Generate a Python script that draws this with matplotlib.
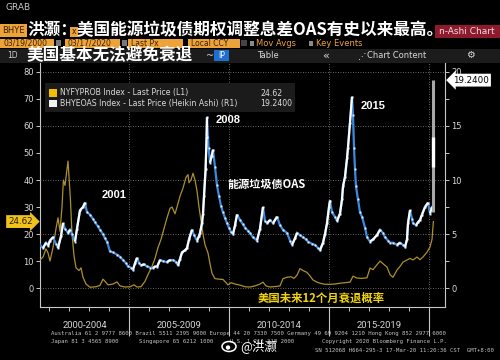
import numpy as np
import matplotlib
matplotlib.use("Agg")
import matplotlib.pyplot as plt
from matplotlib.patches import Rectangle, Ellipse, Circle
from matplotlib.collections import LineCollection

plt.rcParams['font.family'] = ['DejaVu Sans']
CJK = ['Noto Sans CJK SC', 'DejaVu Sans']

# ---------------- data ----------------
prob_dates = [2000.55, 2000.70, 2000.85, 2000.95, 2001.05, 2001.20, 2001.35, 2001.45, 2001.55, 2001.65,
              2001.72, 2001.80, 2001.95, 2002.07, 2002.15, 2002.25, 2002.35, 2002.50, 2002.60, 2002.70,
              2002.85, 2003.05, 2003.35, 2003.55, 2003.70, 2003.80, 2003.95, 2004.20, 2004.40, 2004.55,
              2004.80, 2005.05, 2005.25, 2005.40, 2005.60, 2005.80, 2005.95, 2006.15, 2006.30, 2006.45,
              2006.60, 2006.75, 2006.90, 2007.05, 2007.15, 2007.30, 2007.40, 2007.55, 2007.70, 2007.85,
              2007.95, 2008.00, 2008.10, 2008.20, 2008.30, 2008.40, 2008.50, 2008.60, 2008.70, 2008.80,
              2008.95, 2009.05, 2009.15, 2009.30, 2009.50, 2009.70, 2009.85, 2009.95, 2010.10, 2010.30,
              2010.55, 2010.80, 2011.05, 2011.30, 2011.55, 2011.70, 2011.85, 2012.05, 2012.35, 2012.55,
              2012.70, 2012.90, 2013.10, 2013.25, 2013.40, 2013.55, 2013.70, 2013.90, 2014.05, 2014.20,
              2014.40, 2014.55, 2014.80, 2015.05, 2015.30, 2015.55, 2015.80, 2016.05, 2016.20, 2016.40,
              2016.65, 2016.90, 2017.05, 2017.20, 2017.35, 2017.55, 2017.75, 2017.90, 2018.05, 2018.20,
              2018.40, 2018.55, 2018.70, 2018.90, 2019.05, 2019.20, 2019.40, 2019.55, 2019.70, 2019.90,
              2020.05, 2020.15, 2020.22]
prob_values = [10.4, 11.5, 14.5, 13.0, 10.0, 15.0, 22.0, 26.0, 21.0, 30.0,
               40.0, 38.0, 47.0, 33.0, 20.0, 12.0, 7.5, 6.5, 7.5, 4.0,
               1.5, 0.3, 0.5, 1.0, 3.3, 2.5, 1.2, 1.5, 2.3, 0.8,
               0.4, 0.5, 1.2, 0.4, 0.5, 2.5, 5.0, 8.0, 11.0, 15.0,
               18.0, 22.0, 26.0, 29.5, 30.0, 27.5, 30.0, 34.0, 37.0, 41.0,
               42.0, 39.0, 40.0, 42.5, 40.0, 36.0, 30.0, 25.0, 20.0, 16.0,
               13.0, 9.0, 5.5, 3.5, 3.3, 3.2, 2.0, 1.2, 2.0, 1.5,
               1.1, 0.5, 0.4, 0.8, 1.5, 2.2, 0.8, 0.4, 0.6, 0.8,
               3.5, 4.0, 4.2, 3.6, 4.8, 7.2, 6.5, 5.8, 4.5, 3.0,
               2.2, 1.8, 1.4, 1.4, 1.5, 1.8, 2.0, 2.2, 4.4, 3.7,
               3.6, 3.8, 7.4, 6.8, 8.2, 10.0, 8.7, 7.8, 5.0, 4.0,
               6.7, 8.0, 9.6, 10.4, 11.0, 10.4, 11.5, 10.5, 11.5, 13.3,
               15.2, 18.0, 24.62]

oas_dates = [2000.55, 2000.70, 2000.85, 2000.95, 2001.05, 2001.20, 2001.35, 2001.45, 2001.60, 2001.70,
             2001.80, 2001.95, 2002.05, 2002.15, 2002.30, 2002.40, 2002.55, 2002.70, 2002.80, 2002.90,
             2003.05, 2003.20, 2003.30, 2003.45, 2003.55, 2003.70, 2003.80, 2003.90, 2004.05, 2004.20,
             2004.40, 2004.55, 2004.70, 2004.85, 2004.95, 2005.10, 2005.20, 2005.30, 2005.40, 2005.50,
             2005.60, 2005.75, 2005.90, 2006.05, 2006.20, 2006.30, 2006.40, 2006.55, 2006.70, 2006.90,
             2007.05, 2007.20, 2007.35, 2007.45, 2007.55, 2007.65, 2007.80, 2007.90, 2008.00, 2008.15,
             2008.25, 2008.40, 2008.50, 2008.55, 2008.65, 2008.70, 2008.75, 2008.83, 2008.88, 2008.90,
             2008.98, 2009.05, 2009.13, 2009.20, 2009.30, 2009.40, 2009.50, 2009.60, 2009.70, 2009.80,
             2009.90, 2010.00, 2010.10, 2010.20, 2010.30, 2010.40, 2010.55, 2010.70, 2010.80, 2010.95,
             2011.05, 2011.20, 2011.40, 2011.55, 2011.70, 2011.80, 2011.90, 2012.05, 2012.20, 2012.40,
             2012.55, 2012.70, 2012.90, 2013.05, 2013.15, 2013.30, 2013.40, 2013.55, 2013.70, 2013.85,
             2013.95, 2014.15, 2014.30, 2014.45, 2014.55, 2014.70, 2014.80, 2014.90, 2015.00, 2015.05,
             2015.15, 2015.30, 2015.40, 2015.55, 2015.65, 2015.70, 2015.80, 2015.90, 2015.95, 2016.05,
             2016.15, 2016.20, 2016.25, 2016.30, 2016.35, 2016.45, 2016.55, 2016.65, 2016.80, 2016.90,
             2017.05, 2017.20, 2017.40, 2017.55, 2017.70, 2017.80, 2017.95, 2018.05, 2018.20, 2018.40,
             2018.55, 2018.70, 2018.80, 2018.90, 2018.95, 2019.05, 2019.15, 2019.20, 2019.35, 2019.45,
             2019.55, 2019.65, 2019.80, 2019.95, 2020.05, 2020.15]
oas_values = [4.0, 3.7, 4.2, 3.9, 4.4, 4.7, 4.1, 3.7, 4.8, 6.0,
              5.5, 5.1, 5.4, 5.0, 4.3, 5.5, 7.2, 7.5, 7.9, 7.0,
              6.8, 6.4, 6.1, 5.7, 5.4, 5.0, 4.6, 4.3, 3.4, 3.3,
              3.1, 2.9, 2.6, 2.3, 2.0, 1.9, 1.7, 2.3, 2.8, 2.3,
              2.1, 2.2, 2.0, 1.9, 1.85, 2.0, 1.95, 2.6, 2.5, 2.4,
              2.6, 2.6, 2.4, 2.1, 2.7, 3.3, 3.5, 3.7, 4.5, 5.4,
              4.9, 4.4, 4.8, 5.1, 6.0, 6.9, 8.5, 11.0, 14.0, 15.8,
              13.0, 11.6, 12.2, 12.8, 11.2, 9.5, 8.5, 7.6, 7.0, 6.5,
              6.0, 5.6, 5.2, 5.0, 5.8, 6.8, 6.3, 5.9, 5.6, 5.3,
              5.1, 4.7, 4.4, 5.5, 7.5, 6.2, 6.0, 6.3, 6.0, 6.6,
              5.8, 5.4, 5.1, 4.4, 4.0, 4.6, 5.1, 4.9, 4.7, 4.5,
              4.3, 4.1, 4.0, 3.7, 3.5, 4.2, 5.0, 6.0, 7.5, 8.1,
              7.0, 6.6, 6.2, 6.9, 8.2, 9.4, 10.3, 12.0, 13.0, 15.3,
              17.7, 16.0, 13.0, 11.0, 9.4, 8.2, 7.0, 6.6, 5.6, 4.7,
              4.3, 4.5, 4.9, 5.4, 5.1, 4.7, 4.4, 4.2, 4.2, 4.0,
              4.2, 4.0, 3.8, 4.5, 6.0, 7.2, 6.4, 6.0, 5.8, 6.1,
              6.3, 6.8, 7.5, 7.9, 6.9, 7.5]

# last Heikin-Ashi candle (17-Mar-2020)
last_date = 2020.21
last_open, last_close, last_low, last_high = 11.2, 14.0, 7.0, 19.24
prob_last = 24.62
oas_last = 19.24

period_labels = ['2000-2004', '2005-2009', '2010-2014', '2015-2019']
period_bounds = [2000.55, 2005, 2010, 2015, 2020]
year_ticks = list(range(2001, 2021))
left_ticks = [0, 10, 20, 30, 40, 50, 60, 70, 80]
right_ticks = [0, 5, 10, 15, 20]
right_minor = [2.5, 7.5, 12.5, 17.5]

legend_names = ['NYFYPROB Index - Last Price (L1)', 'BHYEOAS Index - Last Price (Heikin Ashi) (R1)']
legend_values = ['24.62', '19.2400']

title1 = '洪灏：美国能源垃圾债期权调整息差OAS有史以来最高。'
title2 = '美国基本无法避免衰退'

# ---------------- figure ----------------
W, H = 500, 360
fig = plt.figure(figsize=(5, 3.6), dpi=100, facecolor='black')

bg = fig.add_axes([0, 0, 1, 1], zorder=0)
bg.set_xlim(0, W); bg.set_ylim(H, 0); bg.axis('off')


def rect(a, x0, y0, x1, y1, fc, ec='none', lw=0, z=1):
    a.add_patch(Rectangle((x0, y0), x1 - x0, y1 - y0, facecolor=fc, edgecolor=ec, lw=lw, zorder=z))


ORANGE = '#eea23a'
# header
bg.text(5, 8, 'GRAB', color='#c8c8c8', fontsize=6.5, va='center')
rect(bg, 0, 24, 27, 37, ORANGE)
bg.text(2, 30.5, 'BHYE', color='#3a2000', fontsize=6, va='center')
rect(bg, 70, 27, 78, 37, ORANGE)
bg.text(74, 32, 'x', color='#3a2000', fontsize=5.5, va='center', ha='center')
rect(bg, 435, 25, 500, 38, '#8e1a2e')
bg.text(439, 31.5, 'n-Ashi Chart', color='#f0e0e0', fontsize=6.5, va='center')

for (x0, x1, s) in [(0, 54, '03/19/2000'), (65, 120, '03/17/2020'), (128, 183, 'Last Px'), (188, 240, 'Local CCY')]:
    rect(bg, x0, 39, x1, 47.5, ORANGE)
    bg.text(x0 + 3, 43.3, s, color='#3a2000', fontsize=5.5, va='center')
rect(bg, 56, 40, 61, 46, '#777777')
rect(bg, 122, 40, 127, 46, '#777777')
rect(bg, 241, 40, 247, 46, '#444444')
rect(bg, 250, 41, 254, 46, '#8a8a8a')
bg.text(256, 43.5, 'Mov Avgs', color=ORANGE, fontsize=6, va='center')
rect(bg, 309, 41, 313, 46, '#8a8a8a')
bg.text(316, 43.5, 'Key Events', color=ORANGE, fontsize=6, va='center')

# toolbar
rect(bg, 0, 49, W, 63, '#1c1c1c')
bg.text(7, 56, '1D', color='#cfcfcf', fontsize=5.5, va='center')
bg.text(206, 56, '~', color='#cfcfcf', fontsize=7, va='center')
rect(bg, 214, 50, 229, 61, '#1f6fd1')
bg.text(221.5, 55.5, 'IP', color='white', fontsize=5.5, va='center', ha='center')
bg.text(257, 56, 'Table', color='#d8d8d8', fontsize=6, va='center')
bg.text(322, 55.5, '«', color='#d8d8d8', fontsize=8, va='center')
bg.text(358, 56, '⋰', color='#d8d8d8', fontsize=6, va='center')
bg.text(367, 56, 'Chart Content', color='#d8d8d8', fontsize=6, va='center')
bg.text(470, 55.5, '⚙', color='#d8d8d8', fontsize=7, va='center', ha='center')

# footer
MONO = 'DejaVu Sans Mono'
FC = '#c4c4c4'
bg.text(51, 333, 'Australia 61 2 9777 8600 Brazil 5511 2395 9000 Europe 44 20 7330 7500 Germany 49 69 9204 1210 Hong Kong 852 2977 6000',
        family=MONO, fontsize=4.05, color=FC, va='center')
bg.text(51, 341.5, 'Japan 81 3 4565 8900', family=MONO, fontsize=4.05, color=FC, va='center')
bg.text(139, 341.5, 'Singapore 65 6212 1000', family=MONO, fontsize=4.05, color=FC, va='center')
bg.text(230, 341.5, 'U.S. 1 212 318 2000', family=MONO, fontsize=4.05, color=FC, va='center')
bg.text(322, 341.5, 'Copyright 2020 Bloomberg Finance L.P.', family=MONO, fontsize=4.05, color=FC, va='center')
bg.text(315, 350, 'SN 512068 H664-295-3 17-Mar-20 11:20:36 CST  GMT+8:00', family=MONO, fontsize=4.05, color=FC, va='center')

# ---------------- plot ----------------
ax = fig.add_axes([40 / W, 1 - 307 / H, 405 / W, 244 / H], zorder=2)
ax.set_facecolor('black')
ax.set_xlim(2000.55, 2020.8)
ax.set_ylim(-7.0, 83.3)
ax2 = ax.twinx()
ax2.set_ylim(-7.0 / 4, 83.3 / 4)

SP = '#c8c8c8'
for a in (ax, ax2):
    a.spines['top'].set_visible(False)
    for s in a.spines.values():
        s.set_color(SP)
        s.set_linewidth(0.8)
ax.spines['right'].set_visible(False)
ax2.spines['left'].set_visible(False)
ax2.spines['bottom'].set_visible(False)

ax.set_yticks(left_ticks)
ax.tick_params(axis='y', colors=SP, labelcolor='#d8d8d8', labelsize=6, length=3, width=0.7, pad=1.5)
ax2.set_yticks(right_ticks)
ax2.set_yticks(right_minor, minor=True)
ax2.tick_params(axis='y', which='major', colors=SP, labelcolor='#d8d8d8', labelsize=6, length=3, width=0.7, pad=1.5)
ax2.tick_params(axis='y', which='minor', colors=SP, length=3, width=0.7)

ax.set_xticks(period_bounds[1:])
ax.set_xticks(year_ticks, minor=True)
ax.tick_params(axis='x', which='major', length=21, width=0.8, colors=SP, labelbottom=False)
ax.tick_params(axis='x', which='minor', length=3, width=0.7, colors=SP)
for i, lab in enumerate(period_labels):
    c = (period_bounds[i] + period_bounds[i + 1]) / 2
    ax.text(c, -0.074, lab, transform=ax.get_xaxis_transform(), ha='center', va='center',
            family='Roboto', fontsize=6.8, color='#d4d4d4')

GRID = dict(color='#8a8a8a', linestyle=(0, (1, 2)), linewidth=0.6)
ax.grid(axis='x', which='major', **GRID)
ax2.grid(axis='y', which='major', **GRID)
ax.set_axisbelow(True)

# recession probability (left)
ax.plot(prob_dates, prob_values, color='#ad8f2c', lw=0.9, zorder=3)

# energy HY OAS (right), Heikin-Ashi like colouring
od = np.array(oas_dates)
oy = np.array(oas_values)
ax2.plot(od, oy, color='#3a8ae0', lw=1.6, zorder=4, solid_joinstyle='miter')
pts = np.column_stack([od, oy])
segs = np.stack([pts[:-1], pts[1:]], axis=1)
up = np.diff(oy) > 0
ax2.add_collection(LineCollection(segs[up], colors='white', linewidths=1.6, zorder=5))
ax2.plot(od[1:][up], oy[1:][up], ls='none', marker='s', ms=1.6, mfc='white', mec='none', zorder=5)
ax2.plot(od[1:][~up], oy[1:][~up], ls='none', marker='s', ms=1.4, mfc='#e8f0ff', mec='none', zorder=5)
ax2.vlines(last_date, last_low, last_high, color='#a8a8a8', lw=2.2, zorder=5)
ax2.vlines(last_date, last_open, last_close, color='white', lw=2.4, zorder=6)

# annotations
BOLD = dict(family=['Liberation Sans', 'DejaVu Sans'], fontweight='bold', color='white', fontsize=8,
            ha='center', va='center')
ax2.text(2004.25, 8.6, '2001', zorder=7, **BOLD)
ax2.text(2009.95, 15.55, '2008', zorder=7, **BOLD)
ax2.text(2017.2, 16.85, '2015', zorder=7, **BOLD)
ax2.text(2011.9, 9.6, '能源垃圾债OAS', family=CJK, fontweight='bold', color='white', fontsize=8,
         ha='center', va='center', zorder=7)
ax2.text(2014.6, -0.93, '美国未来12个月衰退概率', family=CJK, fontweight='bold', color='#f2d40a', fontsize=8.2,
         ha='center', va='center', zorder=7)

# price tags
ax.text(-0.018, prob_last, legend_values[0], transform=ax.get_yaxis_transform(), ha='right', va='center',
        fontsize=6.3, color='#2a1c00',
        bbox=dict(boxstyle='rarrow,pad=0.22', fc='#efc21c', ec='none'), zorder=8)
ax2.text(1.02, oas_last, legend_values[1], transform=ax2.get_yaxis_transform(), ha='left', va='center',
         fontsize=6.3, color='black',
         bbox=dict(boxstyle='larrow,pad=0.22', fc='white', ec='none'), zorder=8)

# ---------------- overlay ----------------
ov = fig.add_axes([0, 0, 1, 1], zorder=10)
ov.set_xlim(0, W); ov.set_ylim(H, 0); ov.axis('off')

# legend box
rect(ov, 45, 83, 295, 112, '#1b1b1b')
rect(ov, 49, 89, 57, 97, '#f0c000')
rect(ov, 49, 99.5, 57, 107, '#f2f2f2')
for yy, name, val in [(93, legend_names[0], legend_values[0]), (103.3, legend_names[1], legend_values[1])]:
    ov.text(60, yy, name, color='#dcdcdc', fontsize=5.6, va='center')
    ov.text(260, yy, val, color='#dcdcdc', fontsize=5.6, va='center')

# big chinese titles
ov.text(27, 30.5, title1, family=CJK, fontweight='bold', color='white', fontsize=12, va='center', ha='left')
ov.text(27, 55.5, title2, family=CJK, fontweight='bold', color='white', fontsize=12, va='center', ha='left')

# weibo watermark
ov.add_patch(Ellipse((229, 346.5), 14, 10, facecolor='none', edgecolor='white', lw=1.1))
ov.add_patch(Circle((228, 347.5), 2.2, facecolor='white', edgecolor='none'))
ov.text(240, 346, '@洪灏', family=CJK, color='white', fontsize=9, va='center', ha='left')

fig.savefig('out.png', dpi=100, facecolor='black')
